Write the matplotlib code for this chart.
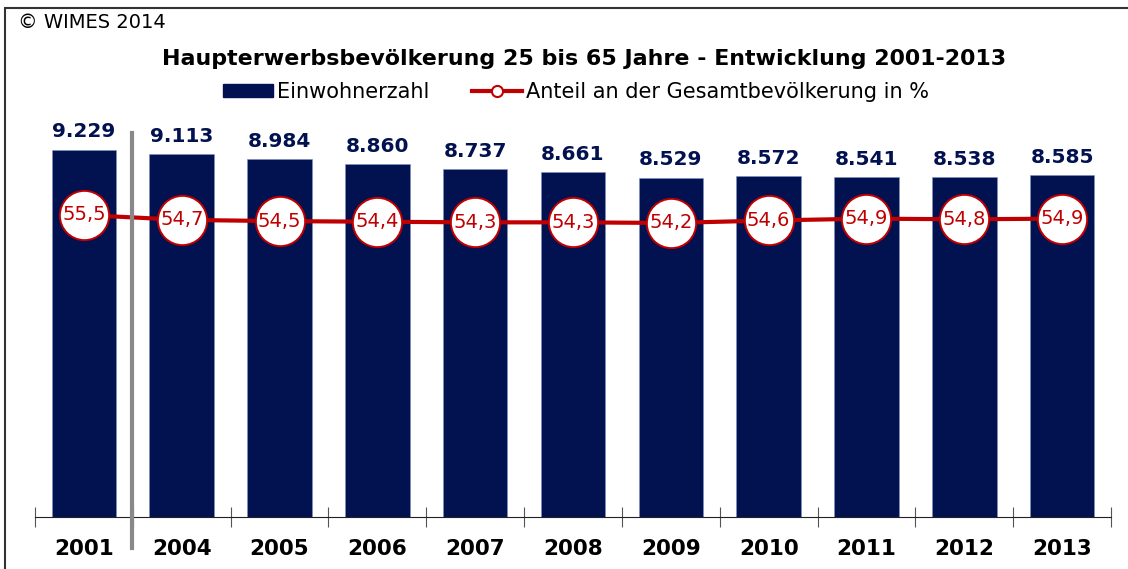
import matplotlib
matplotlib.use('Agg')
import matplotlib.pyplot as plt
from matplotlib.patches import Rectangle, Patch
from matplotlib.lines import Line2D

years = ["2001", "2004", "2005", "2006", "2007", "2008", "2009", "2010", "2011", "2012", "2013"]
einwohner = [9.229, 9.113, 8.984, 8.860, 8.737, 8.661, 8.529, 8.572, 8.541, 8.538, 8.585]
anteil = [55.5, 54.7, 54.5, 54.4, 54.3, 54.3, 54.2, 54.6, 54.9, 54.8, 54.9]

navy = '#02114F'
red = '#C00000'

W, H = 1128, 569
fig = plt.figure(figsize=(W / 100, H / 100), dpi=100)

# axes in pixel placement
left, right, bottom, top = 35, 1111, 517, 119
ax = fig.add_axes([left / W, 1 - bottom / H, (right - left) / W, (bottom - top) / H])
x = range(len(years))
ax.bar(x, einwohner, width=0.66, color=navy, edgecolor='#8090C0', linewidth=0.4, zorder=2)
ax.set_xlim(-0.5, len(years) - 0.5)
ax.set_ylim(0, 10)
for i, v in enumerate(einwohner):
  ax.annotate("%.3f" % v, (i, v), xytext=(0, 6), textcoords='offset points',
              ha='center', va='bottom', fontsize=14.5, fontweight='bold', color=navy)

for s in ['left', 'right', 'top']:
  ax.spines[s].set_visible(False)
ax.spines['bottom'].set_color('#222222')
ax.set_yticks([])
ax.set_xticks([i - 0.5 for i in range(len(years) + 1)], minor=False)
ax.set_xticklabels([])
ax.tick_params(axis='x', which='major', direction='inout', length=14, color='#555555', width=0.8)
ax.set_xticks(list(x), minor=True)
ax.set_xticklabels(years, minor=True, fontsize=15.5, fontweight='bold')
ax.tick_params(axis='x', which='minor', length=0, pad=16)

ax2 = ax.twinx()
ax2.set_ylim(6.4, 71.1)
ax2.axis('off')
ax2.plot(list(x), anteil, color=red, lw=3, marker='o', markersize=35.5, markerfacecolor='white',
         markeredgecolor=red, markeredgewidth=1.4, zorder=3)
for i, v in enumerate(anteil):
  ax2.text(i, v, ("%.1f" % v).replace('.', ','), ha='center', va='center', fontsize=14,
           color=red, zorder=4)

# grey separator between 2001 and 2004
fig.add_artist(Line2D([132 / W, 132 / W], [1 - 133 / H, 1 - 548 / H], color='#888888', lw=3))

# frame around the figure
fig.add_artist(Rectangle((5 / W, -0.1), 1.2, 1 - 8 / H + 0.1, transform=fig.transFigure,
                         fill=False, edgecolor='#333333', lw=1.5))

fig.text(18 / W, 1 - 22 / H, "\u00a9 WIMES 2014", fontsize=14, va='center', ha='left')
fig.text(584 / W, 1 - 59 / H, "Haupterwerbsbevölkerung 25 bis 65 Jahre - Entwicklung 2001-2013",
         fontsize=15.9, fontweight='bold', ha='center', va='center')

handles = [Patch(facecolor=navy, edgecolor=navy),
           Line2D([], [], color=red, lw=3, marker='o', markersize=8, markerfacecolor='white',
                  markeredgecolor=red, markeredgewidth=1.5)]
fig.legend(handles, ["Einwohnerzahl", "Anteil an der Gesamtbevölkerung in %"], loc='center',
           bbox_to_anchor=(576 / W, 1 - 92 / H), ncol=2, frameon=False, fontsize=15,
           handlelength=2.4, handletextpad=0.2, columnspacing=2.0, handleheight=0.6)

plt.savefig('out.png', dpi=100)
